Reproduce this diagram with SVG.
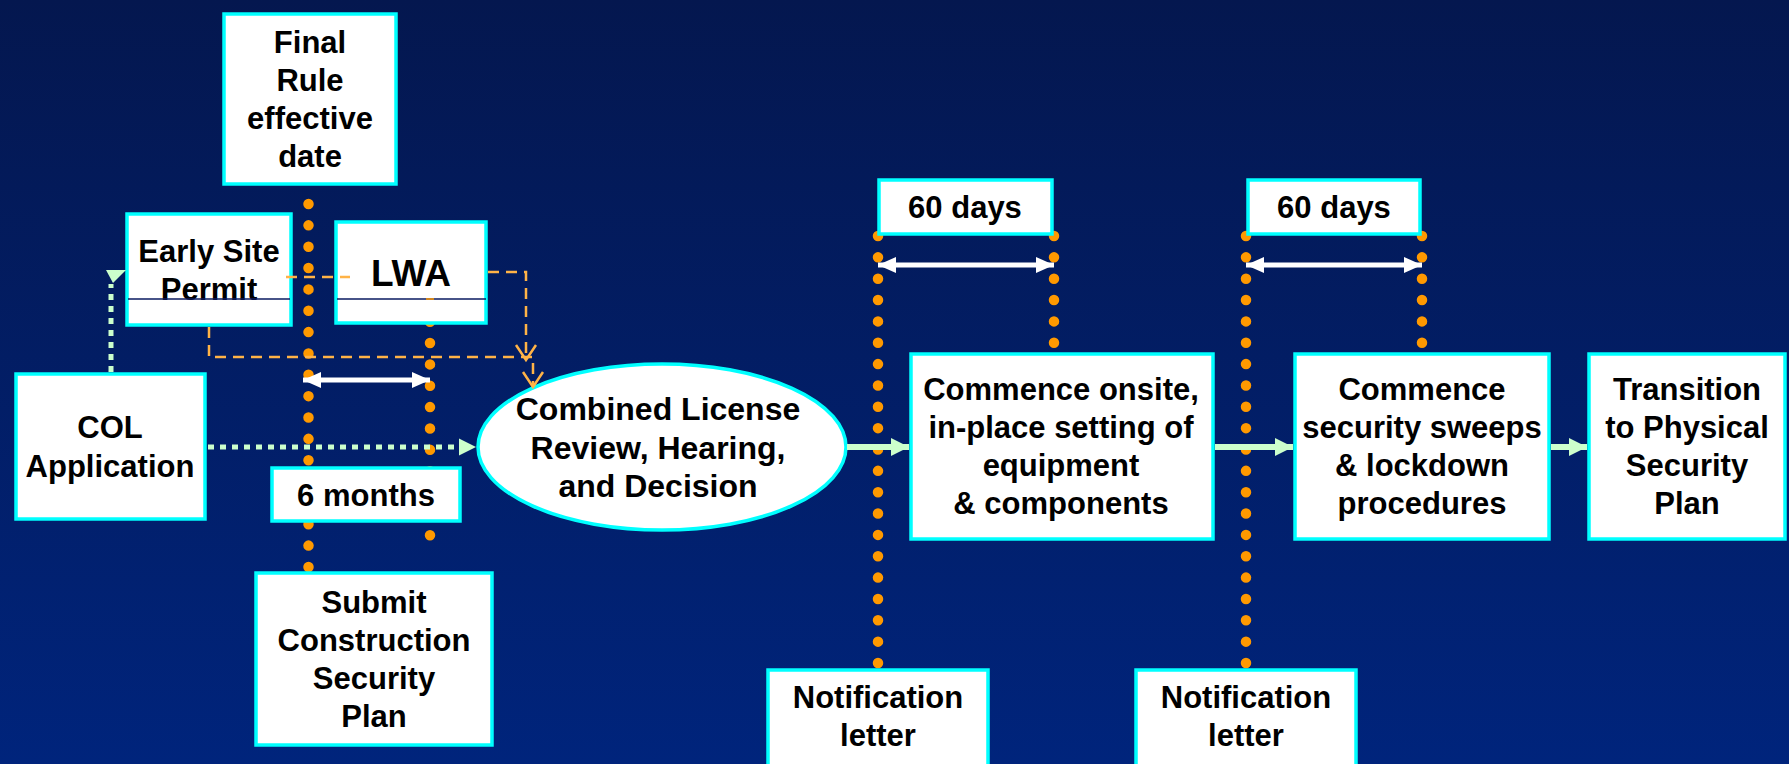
<svg xmlns="http://www.w3.org/2000/svg" width="1789" height="764" viewBox="0 0 1789 764">
  <defs>
    <linearGradient id="bg" x1="0" y1="0" x2="0" y2="1">
      <stop offset="0" stop-color="#04174f"/>
      <stop offset="1" stop-color="#00247c"/>
    </linearGradient>
    <marker id="greenHead" markerUnits="userSpaceOnUse" markerWidth="18" markerHeight="18" viewBox="0 0 17 17" refX="17" refY="8.5" orient="auto">
      <path d="M0,0 L17,8.5 L0,17 z" fill="#ccffcc"/>
    </marker>
    <marker id="whiteHead" markerUnits="userSpaceOnUse" markerWidth="18" markerHeight="18" viewBox="0 0 18 16" refX="18" refY="8" orient="auto-start-reverse">
      <path d="M0,0 L18,8 L0,16 z" fill="#ffffff"/>
    </marker>
    <marker id="openV" markerUnits="userSpaceOnUse" markerWidth="24" markerHeight="24" viewBox="-2 -2 20 24" refX="15" refY="10" orient="auto">
      <path d="M0,0 L15,10 L0,20" fill="none" stroke="#ffb347" stroke-width="2.5"/>
    </marker>
    <style>
      .box { fill: #ffffff; stroke: #00ffff; stroke-width: 3.5; }
      .lbl { font-family: "Liberation Sans", Arial, Helvetica, sans-serif; font-weight: bold; font-size: 31px; fill: #000000; text-anchor: middle; }
      .big { font-size: 37px; }
      .oval { font-size: 32px; }
      .rule { stroke: #0a1a60; stroke-width: 1.5; }
      .timeline { fill: none; stroke: #ff9900; stroke-width: 10.5; stroke-linecap: round; stroke-dasharray: 0 21.35; }
      .flow { fill: none; stroke: #ccffcc; stroke-width: 6; marker-end: url(#greenHead); }
      .dotted { fill: none; stroke: #ccffcc; stroke-width: 5; stroke-dasharray: 6 6; }
      .span { fill: none; stroke: #ffffff; stroke-width: 5; marker-start: url(#whiteHead); marker-end: url(#whiteHead); }
      .dash { fill: none; stroke: #ffb347; stroke-width: 2.5; stroke-dasharray: 11 7; }
    </style>
  </defs>

  <rect x="0" y="0" width="1789" height="764" fill="url(#bg)"/>

  <!-- orange dotted milestone guides -->
  <g id="timelines">
    <path class="timeline" d="M308.5,204 V567.5"/>
    <path class="timeline" d="M430,279 V556.5"/>
    <path class="timeline" d="M878,236 V663.5"/>
    <path class="timeline" d="M1054,236 V343"/>
    <path class="timeline" d="M1246,236 V663.5"/>
    <path class="timeline" d="M1422,236 V343"/>
  </g>

  <g id="final-rule">
    <rect class="box" x="224" y="14" width="172" height="170"/>
    <text class="lbl" x="310" y="53">Final</text>
    <text class="lbl" x="310" y="91">Rule</text>
    <text class="lbl" x="310" y="129">effective</text>
    <text class="lbl" x="310" y="167">date</text>
  </g>

  <g id="early-site-permit">
    <rect class="box" x="127" y="214" width="164" height="111"/>
    <text class="lbl" x="209" y="262">Early Site</text>
    <text class="lbl" x="209" y="300">Permit</text>
    <line class="rule" x1="128" y1="299" x2="290" y2="299"/>
  </g>

  <g id="lwa">
    <rect class="box" x="336" y="222" width="150" height="101"/>
    <text class="lbl big" x="411" y="286">LWA</text>
    <line class="rule" x1="337" y1="299" x2="486" y2="299"/>
    <line x1="426" y1="299" x2="434" y2="299" stroke="#ff9900" stroke-width="1.5"/>
  </g>

  <g id="col-application">
    <rect class="box" x="16" y="374" width="189" height="145"/>
    <text class="lbl" x="110" y="438">COL</text>
    <text class="lbl" x="110" y="477">Application</text>
  </g>

  <g id="six-months">
    <rect class="box" x="272" y="468" width="188" height="53"/>
    <text class="lbl" x="366" y="506">6 months</text>
  </g>

  <g id="submit-plan">
    <rect class="box" x="256" y="573" width="236" height="172"/>
    <text class="lbl" x="374" y="613">Submit</text>
    <text class="lbl" x="374" y="651">Construction</text>
    <text class="lbl" x="374" y="689">Security</text>
    <text class="lbl" x="374" y="727">Plan</text>
  </g>

  <g id="col-review">
    <ellipse class="box" cx="662" cy="447" rx="184" ry="83"/>
    <text class="lbl oval" x="658" y="420">Combined License</text>
    <text class="lbl oval" x="658" y="459">Review, Hearing,</text>
    <text class="lbl oval" x="658" y="497">and Decision</text>
  </g>

  <g id="days-60-a">
    <rect class="box" x="879" y="180" width="173" height="54"/>
    <text class="lbl" x="965" y="218">60 days</text>
  </g>

  <g id="days-60-b">
    <rect class="box" x="1248" y="180" width="172" height="54"/>
    <text class="lbl" x="1334" y="218">60 days</text>
  </g>

  <g id="onsite-setting">
    <rect class="box" x="911" y="354" width="302" height="185"/>
    <text class="lbl" x="1061" y="400">Commence onsite,</text>
    <text class="lbl" x="1061" y="438">in-place setting of</text>
    <text class="lbl" x="1061" y="476">equipment</text>
    <text class="lbl" x="1061" y="514">&amp; components</text>
  </g>

  <g id="security-sweeps">
    <rect class="box" x="1295" y="354" width="254" height="185"/>
    <text class="lbl" x="1422" y="400">Commence</text>
    <text class="lbl" x="1422" y="438">security sweeps</text>
    <text class="lbl" x="1422" y="476">&amp; lockdown</text>
    <text class="lbl" x="1422" y="514">procedures</text>
  </g>

  <g id="physical-plan">
    <rect class="box" x="1589" y="354" width="196" height="185"/>
    <text class="lbl" x="1687" y="400">Transition</text>
    <text class="lbl" x="1687" y="438">to Physical</text>
    <text class="lbl" x="1687" y="476">Security</text>
    <text class="lbl" x="1687" y="514">Plan</text>
  </g>

  <g id="notification-a">
    <rect class="box" x="768" y="670" width="220" height="110"/>
    <text class="lbl" x="878" y="708">Notification</text>
    <text class="lbl" x="878" y="746">letter</text>
  </g>

  <g id="notification-b">
    <rect class="box" x="1136" y="670" width="220" height="110"/>
    <text class="lbl" x="1246" y="708">Notification</text>
    <text class="lbl" x="1246" y="746">letter</text>
  </g>

  <g id="connectors">
    <!-- COL application feeds the review -->
    <path class="dotted" d="M208,447 H462"/>
    <polygon points="459,438.5 476,447 459,455.5" fill="#ccffcc"/>
    <!-- COL application up to the early site permit -->
    <path class="dotted" d="M111,372 V284"/>
    <polygon points="106,270 126,270 113,283" fill="#ccffcc"/>
    <!-- main sequence -->
    <path class="flow" d="M847,447 H909"/>
    <path class="flow" d="M1215,447 H1293"/>
    <path class="flow" d="M1551,447 H1587"/>
    <!-- duration spans -->
    <path class="span" d="M303,380 H430"/>
    <path class="span" d="M878,265 H1054"/>
    <path class="span" d="M1246,265 H1422"/>
    <!-- ESP and LWA into the review -->
    <path class="dash" d="M286,277 H350"/>
    <path class="dash" d="M488,272 H526 V360" marker-end="url(#openV)"/>
    <path class="dash" d="M209,327 V357 H533 V387" marker-end="url(#openV)"/>
  </g>
</svg>
